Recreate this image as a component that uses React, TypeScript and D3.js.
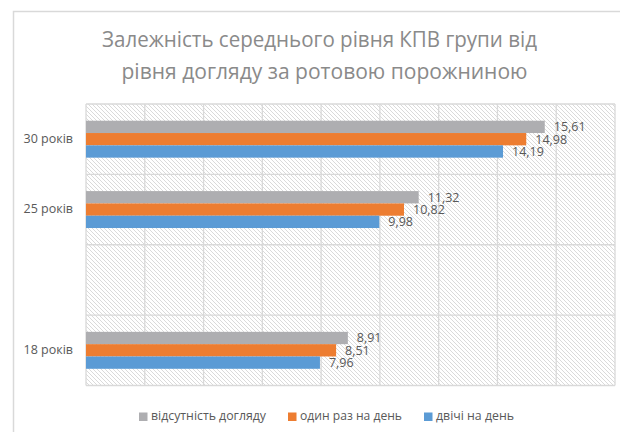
import React from "react";
import * as d3 from "d3";

const titleLines = ["Залежність середнього рівня КПВ групи від", "рівня догляду за ротовою порожниною"];
const categories = ["30 років", "25 років", "", "18 років"];
const seriesNames = ["відсутність догляду", "один раз на день", "двічі на день"];
const seriesColors = ["#AEAEB1", "#ED7D31", "#5B9BD5"];
const noCare = [15.61, 11.32, null, 8.91];
const oncePerDay = [14.98, 10.82, null, 8.51];
const twicePerDay = [14.19, 9.98, null, 7.96];
const xTicks = [0, 2, 4, 6, 8, 10, 12, 14, 16, 18];

const W = 620;
const H = 432;
const plot = { left: 86, right: 615, top: 104, bottom: 385.5 };
const FONT = "'Open Sans', 'Noto Sans', sans-serif";

export default function App() {
  const series = [noCare, oncePerDay, twicePerDay];
  const x = d3.scaleLinear().domain([0, 18]).range([plot.left, plot.right]);
  const y0 = d3.scaleBand().domain(categories).range([plot.top, plot.bottom]).padding(0);
  const bw = y0.bandwidth();
  const groupH = bw * 0.525;
  const y1 = d3
    .scaleBand()
    .domain(seriesNames)
    .range([(bw - groupH) / 2, (bw + groupH) / 2])
    .padding(0);
  const fmt = (v: number) => v.toFixed(2).replace(".", ",");
  const bandEdges = [...categories.map((c) => y0(c) as number), plot.bottom];
  const legendX = [139, 288, 424];
  const legendW = [115, 102, 78];

  return (
    <svg width={W} height={H} style={{ position: "absolute", left: 0, top: 0, background: "#fff" }}>
      <defs>
        <pattern id="hatch" patternUnits="userSpaceOnUse" width="4" height="4">
          <rect width="4" height="4" fill="#ffffff" />
          <path d="M-1,-1 L5,5 M-1,3 L1,5 M3,-1 L5,1" stroke="#d6d6d6" strokeWidth="0.9" />
        </pattern>
      </defs>
      <rect x={13.5} y={11.5} width={640} height={450} fill="#fff" stroke="#d9d9d9" strokeWidth={1.5} />
      {titleLines.map((t, i) => (
        <text
          key={i}
          x={i === 0 ? 319.5 : 324.5}
          y={i === 0 ? 47 : 79}
          textAnchor="middle"
          fontFamily={FONT}
          fontSize={22}
          fill="#8a8a8a"
          textLength={i === 0 ? 435 : 406}
          lengthAdjust="spacingAndGlyphs"
        >
          {t}
        </text>
      ))}
      <rect
        x={plot.left}
        y={plot.top}
        width={plot.right - plot.left}
        height={plot.bottom - plot.top}
        fill="url(#hatch)"
      />
      {xTicks.map((t) => (
        <line key={"v" + t} x1={x(t)} x2={x(t)} y1={plot.top} y2={plot.bottom} stroke="#d9d9d9" strokeWidth={1.3} />
      ))}
      {bandEdges.map((e, i) => (
        <line key={"h" + i} x1={plot.left} x2={plot.right} y1={e} y2={e} stroke="#d9d9d9" strokeWidth={1.3} />
      ))}
      {categories.map((c, ci) => (
        <g key={"c" + ci} transform={`translate(0,${y0(c)})`}>
          {series.map((s, si) => {
            const v = s[ci];
            if (v == null) return null;
            const yy = y1(seriesNames[si]) as number;
            const h = y1.bandwidth();
            return (
              <g key={si}>
                <rect x={x(0)} y={yy} width={x(v) - x(0)} height={h} fill={seriesColors[si]} />
                <text
                  x={x(v) + 9}
                  y={yy + h / 2 + 1}
                  dominantBaseline="middle"
                  fontFamily={FONT}
                  fontSize={12.5}
                  fill="#595959"
                >
                  {fmt(v)}
                </text>
              </g>
            );
          })}
          <text
            x={73}
            y={bw / 2}
            textAnchor="end"
            dominantBaseline="middle"
            fontFamily={FONT}
            fontSize={12.5}
            fill="#595959"
          >
            {c}
          </text>
        </g>
      ))}
      {seriesNames.map((n, i) => (
        <g key={"l" + i}>
          <rect x={legendX[i]} y={412.5} width={8.5} height={8.5} fill={seriesColors[i]} />
          <text
            x={legendX[i] + 12}
            y={417}
            dominantBaseline="middle"
            fontFamily={FONT}
            fontSize={12.5}
            fill="#595959"
            textLength={legendW[i]}
            lengthAdjust="spacingAndGlyphs"
          >
            {n}
          </text>
        </g>
      ))}
    </svg>
  );
}
